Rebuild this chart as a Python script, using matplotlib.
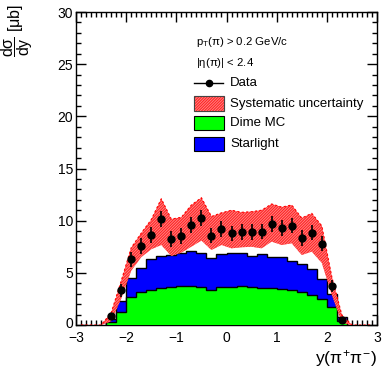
import numpy as np
import matplotlib
matplotlib.use("Agg")
import matplotlib.pyplot as plt
import matplotlib.transforms as mtransforms
from matplotlib.patches import Rectangle
from matplotlib.lines import Line2D
from matplotlib.ticker import MultipleLocator

plt.rcParams['font.family'] = ['Liberation Sans', 'DejaVu Sans']
plt.rcParams['mathtext.fontset'] = 'custom'
plt.rcParams['mathtext.rm'] = 'Liberation Sans'
plt.rcParams['mathtext.it'] = 'Liberation Sans'
plt.rcParams['mathtext.sf'] = 'Liberation Sans'
plt.rcParams['hatch.linewidth'] = 0.6

# ---- data ----
bin_edges = [-2.4, -2.2, -2.0, -1.8, -1.6, -1.4, -1.2, -1.0, -0.8, -0.6, -0.4, -0.2, 0.0,
             0.2, 0.4, 0.6, 0.8, 1.0, 1.2, 1.4, 1.6, 1.8, 2.0, 2.2, 2.4]
bin_centers = [-2.3, -2.1, -1.9, -1.7, -1.5, -1.3, -1.1, -0.9, -0.7, -0.5, -0.3, -0.1,
               0.1, 0.3, 0.5, 0.7, 0.9, 1.1, 1.3, 1.5, 1.7, 1.9, 2.1, 2.3]
data_y = [0.82, 3.33, 6.32, 7.57, 8.59, 10.14, 8.27, 8.51, 9.58, 10.22, 8.57, 9.23,
          8.77, 8.90, 8.93, 8.95, 9.65, 9.28, 9.52, 8.36, 8.86, 7.80, 3.73, 0.47]
data_err = [0.30, 0.62, 0.72, 0.75, 0.77, 0.78, 0.75, 0.75, 0.75, 0.77, 0.75, 0.75,
            0.75, 0.75, 0.75, 0.75, 0.75, 0.75, 0.75, 0.75, 0.75, 0.75, 0.56, 0.25]
dime_mc = [0.32, 1.28, 2.65, 3.13, 3.35, 3.55, 3.61, 3.77, 3.70, 3.61, 3.39, 3.61,
           3.67, 3.74, 3.61, 3.55, 3.55, 3.48, 3.35, 3.19, 2.91, 2.46, 1.76, 0.35]
starlight = [0.25, 1.02, 1.82, 2.30, 3.01, 3.06, 3.09, 3.16, 3.42, 3.32, 3.06, 3.19,
             3.20, 3.13, 3.00, 3.22, 3.00, 3.07, 2.82, 2.66, 2.49, 1.98, 1.21, 0.39]
# systematic band (graph points incl. zero points outside acceptance)
syst_x = [-2.9, -2.7, -2.5] + bin_centers + [2.5, 2.7, 2.9]
syst_low = [0, 0, 0,
            0.35, 2.5, 5.2, 6.5, 7.26, 7.67, 6.61, 6.93, 7.51, 8.09, 7.19, 7.67,
            7.35, 7.45, 7.5, 7.35, 7.99, 7.67, 7.83, 6.71, 7.03, 5.95, 2.88, 0.2,
            0, 0, 0]
syst_high = [0, 0, 0,
             1.15, 4.2, 7.4, 8.8, 10.1, 12.1, 10.15, 10.32, 11.5, 12.2, 10.4, 10.75,
             11.0, 10.8, 10.86, 11.0, 11.6, 11.3, 11.5, 10.25, 10.7, 9.5, 4.6, 0.96,
             0, 0, 0]

xlim = (-3, 3)
ylim = (0, 30)
xtick_labels = ['\u22123', '\u22122', '\u22121', '0', '1', '2', '3']

BAND_FACE = '#ff2424'
BAND_HATCH = '#ff8c8c'

# ---- figure ----
W, H = 382, 370
fig = plt.figure(figsize=(W / 100, H / 100), dpi=100)
ax = fig.add_axes([76 / W, (H - 325) / H, 301 / W, 313 / H])

total = np.array(dime_mc) + np.array(starlight)
ax.stairs(total, bin_edges, fill=True, facecolor='#0000ff', edgecolor='none', zorder=2)
ax.stairs(total, bin_edges, fill=False, edgecolor='black', linewidth=1.0, zorder=2.1)
ax.stairs(dime_mc, bin_edges, fill=True, facecolor='#00ff00', edgecolor='none', zorder=3)
ax.stairs(dime_mc, bin_edges, fill=False, edgecolor='black', linewidth=1.0, zorder=3.1)

ax.fill_between(syst_x, syst_low, syst_high, facecolor=BAND_FACE, edgecolor=BAND_HATCH,
                hatch='////////////', linewidth=0, zorder=4)
ax.plot(syst_x, syst_high, color='red', linestyle=(0, (2, 2)), linewidth=0.8, zorder=4.1)

ax.errorbar(bin_centers, data_y, yerr=data_err, fmt='o', color='black', ms=5,
            elinewidth=1.2, capsize=0, zorder=5)

ax.set_xlim(*xlim)
ax.set_ylim(*ylim)
ax.xaxis.set_major_locator(MultipleLocator(1))
ax.xaxis.set_minor_locator(MultipleLocator(0.1))
ax.yaxis.set_major_locator(MultipleLocator(5))
ax.yaxis.set_minor_locator(MultipleLocator(1))
ax.tick_params(which='both', direction='in', top=True, right=True, labelsize=10,
               width=1.0, colors='black')
ax.tick_params(which='major', length=7)
ax.tick_params(which='minor', length=3.5)
ax.tick_params(axis='x', pad=4.5)
ax.tick_params(axis='y', pad=2)
ax.set_xticks([-3, -2, -1, 0, 1, 2, 3])
ax.set_xticklabels(xtick_labels)
for s in ax.spines.values():
    s.set_linewidth(1.0)

# nudge the y "0" label up slightly so it does not collide with the x "-3" label
fig.canvas.draw()
for lab in ax.get_yticklabels():
    if lab.get_text() == '0':
        lab.set_transform(lab.get_transform() +
                          mtransforms.ScaledTranslation(0, 2.5 / 100, fig.dpi_scale_trans))

ax.text(1.0, -0.075, r'y($\pi^{+}\pi^{-}$)', transform=ax.transAxes, ha='right',
        va='top', fontsize=12.5)
fig.text(17 / W, 1 - 4 / H, r'$\dfrac{d\sigma}{dy}$ [$\mu$b]', rotation=90, ha='center',
         va='top', fontsize=11.5)

# ---- legend ----
def fx(px):
    return (px - 76) / 301

def fy(py):
    return (325 - py) / 313

ax.text(fx(196), fy(42), r'p$_{\rm T}$($\pi$) > 0.2 GeV/c', transform=ax.transAxes,
        ha='left', va='center', fontsize=8.2)
ax.text(fx(196), fy(63), r'|$\eta$($\pi$)| < 2.4', transform=ax.transAxes,
        ha='left', va='center', fontsize=8.2)
ax.add_line(Line2D([fx(194), fx(223)], [fy(83), fy(83)], transform=ax.transAxes,
                   color='black', linewidth=1.0, zorder=6))
ax.add_line(Line2D([fx(208.5)], [fy(83)], transform=ax.transAxes, marker='o', ms=4.5,
                   color='black', zorder=6))
ax.text(fx(230), fy(83), 'Data', transform=ax.transAxes, ha='left', va='center',
        fontsize=9.5)
legend_items = [('Systematic uncertainty', 103.5, dict(facecolor=BAND_FACE, edgecolor=BAND_HATCH, hatch='////////////')),
                ('Dime MC', 123, dict(facecolor='#00ff00', edgecolor='black')),
                ('Starlight', 143.5, dict(facecolor='#0000ff', edgecolor='black'))]
for label, ycen, style in legend_items:
    r = Rectangle((fx(194), fy(ycen + 7)), fx(224) - fx(194), fy(ycen - 7) - fy(ycen + 7),
                  transform=ax.transAxes, linewidth=0.8, zorder=6, **style)
    ax.add_patch(r)
    if label == 'Systematic uncertainty':
        ax.add_patch(Rectangle((fx(194), fy(ycen + 7)), fx(224) - fx(194),
                               fy(ycen - 7) - fy(ycen + 7), transform=ax.transAxes,
                               fill=False, edgecolor='#444444', linewidth=0.8, zorder=6.1))
    ax.text(fx(230), fy(ycen), label, transform=ax.transAxes, ha='left', va='center',
            fontsize=9.5)

fig.savefig('out.png', dpi=100)
